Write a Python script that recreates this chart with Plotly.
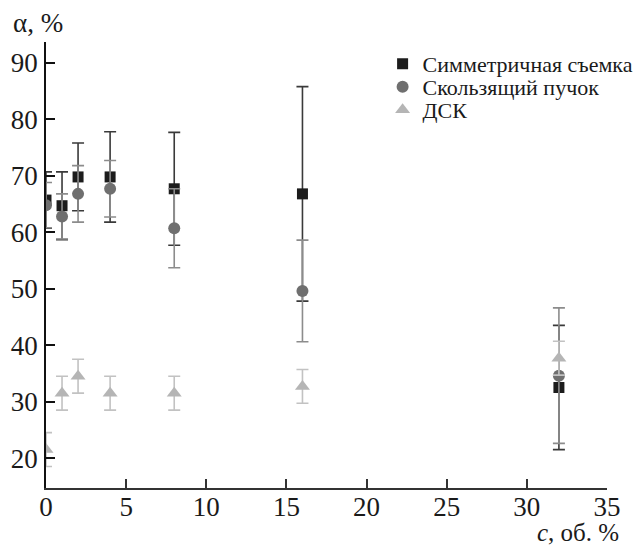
import plotly.graph_objects as go

conc = [0, 1, 2, 4, 8, 16, 32]

sym_vals = [65.7, 64.7, 69.8, 69.8, 67.7, 66.8, 32.5]
sym_err = [5, 6, 6, 8, 10, 19, 11]

slide_vals = [64.8, 62.8, 66.8, 67.7, 60.7, 49.6, 34.6]
slide_err = [4, 4, 5, 5, 7, 9, 12]

dsk_vals = [21.5, 31.5, 34.5, 31.5, 31.5, 32.7, 37.7]
dsk_err = [3, 3, 3, 3, 3, 3, 3]

names = ["Симметричная съемка", "Скользящий пучок", "ДСК"]
x_ticks = [0, 5, 10, 15, 20, 25, 30, 35]
y_ticks = [20, 30, 40, 50, 60, 70, 80, 90]

FONT = "Liberation Serif"

fig = go.Figure()

def add(vals, errs, name, symbol, size, mcolor, ecolor, legend):
    fig.add_trace(go.Scatter(
        x=conc, y=vals, name=name, mode="markers", legend=legend,
        marker=dict(symbol=symbol, size=size, color=mcolor),
        error_y=dict(type="data", array=errs, visible=True,
                     color=ecolor, thickness=1.6, width=6),
    ))

add(sym_vals, sym_err, names[0], "square", 11, "#1c1c1c", "#3a3a3a", "legend")
add(slide_vals, slide_err, names[1], "circle", 12, "#6f6f6f", "#8c8c8c", "legend2")
add(dsk_vals, dsk_err, names[2], "triangle-up", 13, "#b5b5b5", "#c2c2c2", "legend3")

def leg(y):
    return dict(x=0.6, y=y, xanchor="left", yanchor="middle",
                font=dict(family=FONT, size=22, color="#1a1a1a"),
                bgcolor="rgba(0,0,0,0)", itemsizing="trace")

fig.update_layout(
    width=635, height=548,
    margin=dict(l=46, r=28, t=42, b=60, autoexpand=False),
    paper_bgcolor="white", plot_bgcolor="white",
    font=dict(family=FONT, size=27, color="#1a1a1a"),
    showlegend=True,
    legend=leg(0.9507),
    legend2=leg(0.8991),
    legend3=leg(0.8475),
    xaxis=dict(range=[0, 35], tickvals=x_ticks, ticks="inside", ticklen=9,
               tickwidth=1.5, tickcolor="#333", showline=True,
               linecolor="#333", linewidth=1.5, showgrid=False,
               zeroline=False, tickfont=dict(family=FONT, size=27, color="#1a1a1a"),
               ticklabelstandoff=-6, automargin=False),
    yaxis=dict(range=[14.7, 93.7], tickvals=y_ticks, ticks="inside",
               ticklen=9, tickwidth=1.5, tickcolor="#111", showline=True,
               linecolor="#111", linewidth=1.5, showgrid=False,
               zeroline=False, tickfont=dict(family=FONT, size=27, color="#1a1a1a"),
               ticklabelstandoff=1, automargin=False),
    annotations=[
        dict(text="α, %", xref="paper", yref="paper", x=-0.062, y=1.0,
             xanchor="left", yanchor="bottom", yshift=2, showarrow=False,
             font=dict(family=FONT, size=27)),
        dict(text="<i>c</i>, об. %", xref="paper", yref="paper", x=1.025,
             y=0, xanchor="right", yanchor="top", yshift=-29,
             showarrow=False, font=dict(family=FONT, size=25)),
    ],
)

fig.write_html("out.html", config={"displayModeBar": False},
               post_script="document.body.style.margin='0px';document.body.style.overflow='hidden';")
